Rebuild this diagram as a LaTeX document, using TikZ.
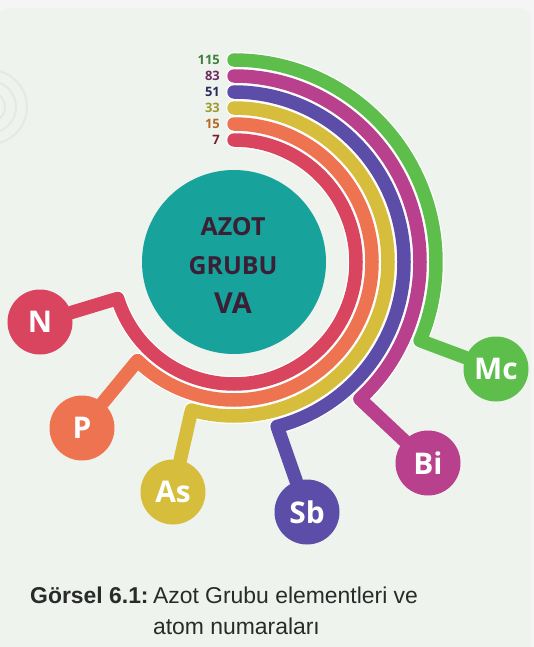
\documentclass[tikz,border=0pt]{standalone}
\usepackage{fontspec}
\setmainfont{Open Sans}
\newfontfamily\capfont{Liberation Sans}
\usetikzlibrary{positioning, calc}

\definecolor{paper}{HTML}{F5F5F5}
\definecolor{panel}{HTML}{EEF3EE}
\definecolor{ringline}{HTML}{E4E9E4}
\definecolor{azotteal}{HTML}{17A29B}
\definecolor{coretext}{HTML}{3B1F35}
\definecolor{captext}{HTML}{2A2A2A}
\definecolor{cN}{HTML}{D9455F}
\definecolor{cP}{HTML}{EE7350}
\definecolor{cAs}{HTML}{D6BE3C}
\definecolor{cSb}{HTML}{5B4DA8}
\definecolor{cBi}{HTML}{B8408C}
\definecolor{cMc}{HTML}{5DBE4B}
\definecolor{zN}{HTML}{7C1B2C}
\definecolor{zP}{HTML}{B46A25}
\definecolor{zAs}{HTML}{9C9A2A}
\definecolor{zSb}{HTML}{2B2A5E}
\definecolor{zBi}{HTML}{6B2D5E}
\definecolor{zMc}{HTML}{3E7F3A}

\tikzstyle{element} = [circle, 
minimum size=65bp, 
inner sep=0pt, 
text=white, 
font=\fontsize{30}{30}\selectfont\bfseries]
\tikzstyle{band} = [line width=13.5bp, line cap=round, line join=round]
\tikzstyle{bandedge} = [white, line width=16bp, line cap=round]
\tikzstyle{atomno} = [anchor=east, 
inner sep=0pt, 
font=\fontsize{13}{13}\selectfont\bfseries]
\tikzstyle{coreword} = [anchor=base, 
inner sep=0pt, 
text=coretext, 
font=\fontsize{25}{25}\selectfont\bfseries]
\tikzstyle{caption} = [anchor=base west, 
inner sep=0pt, 
text=captext, 
font=\capfont\fontsize{23}{23}\selectfont]

\begin{document}
\begin{tikzpicture}[x=1bp, y=1bp]

        \useasboundingbox (0,0) rectangle (534,-647);
        \fill[paper] (0,0) rectangle (534,-647);
        \fill[panel, rounded corners=12bp] (-2,-8) rectangle (531,-670);
        \begin{scope}
            \clip (0,-8) rectangle (531,-647);
            \draw[ringline, line width=2bp] (-10,-107) circle (15) circle (26) circle (37);
        \end{scope}

        \coordinate (C) at (234,-262);
        \node (core) [circle, fill=azotteal, minimum size=184bp] at (C) {};
        \node (azot) [coreword] at (233,-235) {AZOT};
        \node (grubu) [coreword] at ([yshift=-39bp]azot.base) {GRUBU};
        \node (va) [coreword, font=\fontsize{29}{29}\selectfont\bfseries] at ([yshift=-39bp]grubu.base) {VA};

        \node (N) [element, fill=cN] at (40,-322) {N};
        \node (P) [element, fill=cP] at (82,-428) {P};
        \node (As) [element, fill=cAs] at (173,-492) {As};
        \node (Sb) [element, fill=cSb] at (307,-512) {Sb};
        \node (Bi) [element, fill=cBi] at (428,-463) {Bi};
        \node (Mc) [element, fill=cMc] at (496,-369) {Mc};

        \draw [bandedge] (C) ++(0,202) arc[start angle=90, end angle=-22.9, radius=202];
        \draw [band, cMc] (C) ++(0,202) arc[start angle=90, end angle=-22.9, radius=202] -- (Mc);
        \draw [bandedge] (C) ++(0,186) arc[start angle=90, end angle=-47.4, radius=186];
        \draw [band, cBi] (C) ++(0,186) arc[start angle=90, end angle=-47.4, radius=186] -- (Bi);
        \draw [bandedge] (C) ++(0,170) arc[start angle=90, end angle=-75.3, radius=170];
        \draw [band, cSb] (C) ++(0,170) arc[start angle=90, end angle=-75.3, radius=170] -- (Sb);
        \draw [bandedge] (C) ++(0,154) arc[start angle=90, end angle=-106, radius=154];
        \draw [band, cAs] (C) ++(0,154) arc[start angle=90, end angle=-106, radius=154] -- (As);
        \draw [bandedge] (C) ++(0,138) arc[start angle=90, end angle=-134.4, radius=138];
        \draw [band, cP] (C) ++(0,138) arc[start angle=90, end angle=-134.4, radius=138] -- (P);
        \draw [bandedge] (C) ++(0,122) arc[start angle=90, end angle=-162.6, radius=122];
        \draw [band, cN] (C) ++(0,122) arc[start angle=90, end angle=-162.6, radius=122] -- (N);

        \node (z115) [atomno, text=zMc] at ($(C)+(-14,202)$) {115};
        \node (z83) [atomno, text=zBi] at ($(C)+(-14,186)$) {83};
        \node (z51) [atomno, text=zSb] at ($(C)+(-14,170)$) {51};
        \node (z33) [atomno, text=zAs] at ($(C)+(-14,154)$) {33};
        \node (z15) [atomno, text=zP] at ($(C)+(-14,138)$) {15};
        \node (z7) [atomno, text=zN] at ($(C)+(-14,122)$) {7};

        \node (capA) [caption, font=\capfont\fontsize{23}{23}\selectfont\bfseries] at (30,-603) {Görsel 6.1:};
        \node (capB) [caption] at ([xshift=4bp]capA.base east) {Azot Grubu elementleri ve};
        \node (capC) [caption] at ([yshift=-31bp]capB.base west) {atom numaraları};

    \end{tikzpicture}
\end{document}
